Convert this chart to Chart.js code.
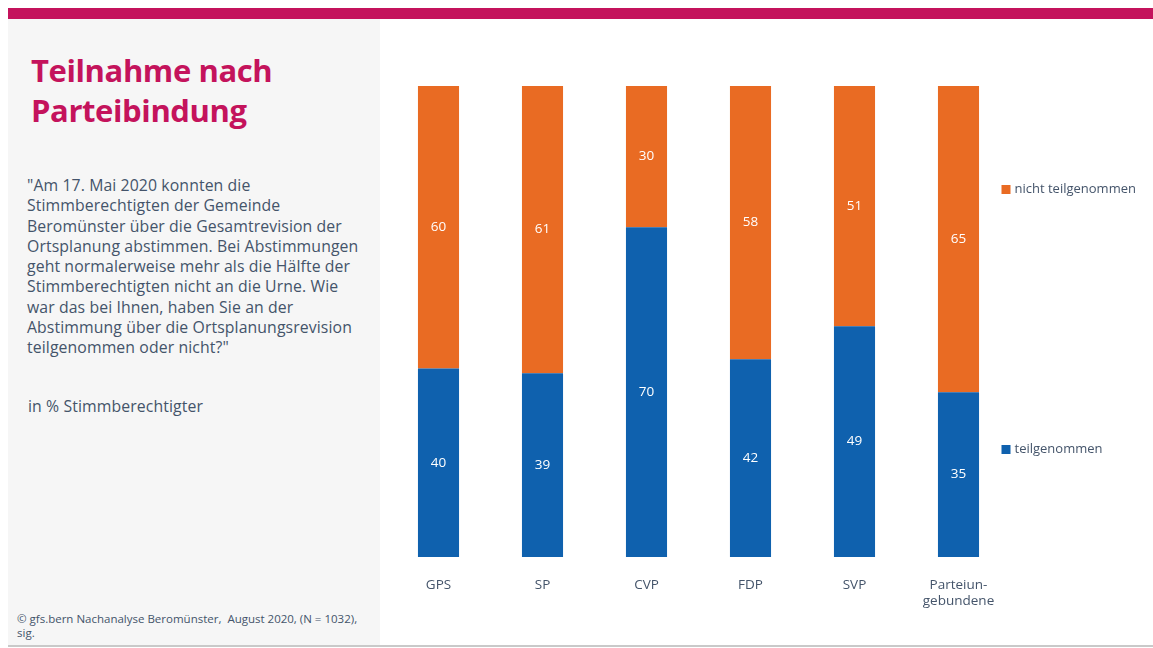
<!DOCTYPE html>
<html>
<head>
<meta charset="utf-8">
<script src="https://cdn.jsdelivr.net/npm/chart.js@4"></script>
<style>
  body { margin: 0; width: 1153px; height: 648px; background: #fff; position: relative; overflow: hidden; font-family: "Open Sans", sans-serif; }
  #topbar { position: absolute; left: 8px; top: 8px; width: 1145px; height: 11px; background: #c4135c; }
  #panel { position: absolute; left: 8px; top: 19px; width: 372px; height: 626px; background: #f6f6f6; }
  #bottomline { position: absolute; left: 8px; top: 645px; width: 1145px; height: 2px; background: #c9c9c9; }
  h1 { position: absolute; left: 31px; top: 50px; margin: 0; font-size: 31px; line-height: 40px; color: #c4135c; font-weight: 700; letter-spacing: -0.4px; white-space: nowrap; }
  #question { position: absolute; left: 27px; top: 175px; margin: 0; font-size: 15.8px; line-height: 20.3px; color: #44546a; letter-spacing: 0.1px; white-space: nowrap; }
  #unit { position: absolute; left: 28px; top: 395px; margin: 0; font-size: 15.8px; color: #44546a; letter-spacing: 0.1px; }
  #source { position: absolute; left: 17px; top: 612px; width: 360px; margin: 0; font-size: 11.5px; line-height: 14px; color: #44546a; }
  #wrap { position: absolute; left: 380px; top: 19px; width: 773px; height: 626px; }
</style>
</head>
<body>
<div id="topbar"></div>
<div id="panel"></div>
<div id="bottomline"></div>
<h1>Teilnahme nach<br>Parteibindung</h1>
<p id="question">"Am 17. Mai 2020 konnten die<br>Stimmberechtigten der Gemeinde<br>Beromünster über die Gesamtrevision der<br>Ortsplanung abstimmen. Bei Abstimmungen<br>geht normalerweise mehr als die Hälfte der<br>Stimmberechtigten nicht an die Urne. Wie<br>war das bei Ihnen, haben Sie an der<br>Abstimmung über die Ortsplanungsrevision<br>teilgenommen oder nicht?"</p>
<p id="unit">in % Stimmberechtigter</p>
<p id="source">© gfs.bern Nachanalyse Beromünster,&nbsp; August 2020, (N = 1032), sig.</p>
<div id="wrap"><canvas id="chart"></canvas></div>
<script>
const parties = ['GPS', 'SP', 'CVP', 'FDP', 'SVP', ['Parteiun-', 'gebundene']];
const participated = [40, 39, 70, 42, 49, 35];
const notParticipated = [60, 61, 30, 58, 51, 65];

const BLUE = '#0f61ae';
const ORANGE = '#e96b23';
const TEXT = '#44546a';
const FONT = '"Open Sans", sans-serif';

// white value labels centred in each segment
const segmentLabels = {
    id: 'segmentLabels',
    afterDatasetsDraw(chart) {
        const ctx = chart.ctx;
        ctx.save();
        ctx.fillStyle = '#fff';
        ctx.font = '13.5px ' + FONT;
        ctx.textAlign = 'center';
        ctx.textBaseline = 'middle';
        chart.data.datasets.forEach((ds, i) => {
            chart.getDatasetMeta(i).data.forEach((bar, j) => {
                const mid = (bar.y + bar.base) / 2;
                ctx.fillText(ds.data[j], bar.x, mid);
            });
        });
        ctx.restore();
    }
};

// legend entries at the right of the plot
const sideLegend = {
    id: 'sideLegend',
    afterDraw(chart) {
        const ctx = chart.ctx;
        const x = chart.chartArea.right - 9;
        const items = [
            { text: 'nicht teilgenommen', color: ORANGE, y: 170 },
            { text: 'teilgenommen', color: BLUE, y: 430 }
        ];
        ctx.save();
        ctx.font = '13px ' + FONT;
        ctx.textBaseline = 'middle';
        items.forEach(it => {
            ctx.fillStyle = it.color;
            ctx.fillRect(x, it.y - 4, 9, 9);
            ctx.fillStyle = TEXT;
            ctx.fillText(it.text, x + 13, it.y);
        });
        ctx.restore();
    }
};

new Chart(document.getElementById('chart').getContext('2d'), {
    type: 'bar',
    data: {
        labels: parties,
        datasets: [{
            label: 'teilgenommen',
            data: participated,
            backgroundColor: BLUE,
            barPercentage: 0.395,
            categoryPercentage: 1
        }, {
            label: 'nicht teilgenommen',
            data: notParticipated,
            backgroundColor: ORANGE,
            barPercentage: 0.395,
            categoryPercentage: 1
        }]
    },
    options: {
        responsive: true,
        maintainAspectRatio: false,
        animation: false,
        layout: { padding: { left: 6.5, right: 142.5, top: 67, bottom: 28 } },
        scales: {
            x: {
                stacked: true,
                grid: { display: false },
                border: { display: false },
                ticks: { color: TEXT, font: { family: FONT, size: 13.5 }, padding: 12, maxRotation: 0 },
                afterFit(scale) { scale.height = 60; }
            },
            y: {
                stacked: true,
                display: false,
                min: 0,
                max: 100
            }
        },
        plugins: {
            legend: { display: false },
            tooltip: { enabled: false }
        }
    },
    plugins: [segmentLabels, sideLegend]
});
</script>
</body>
</html>
